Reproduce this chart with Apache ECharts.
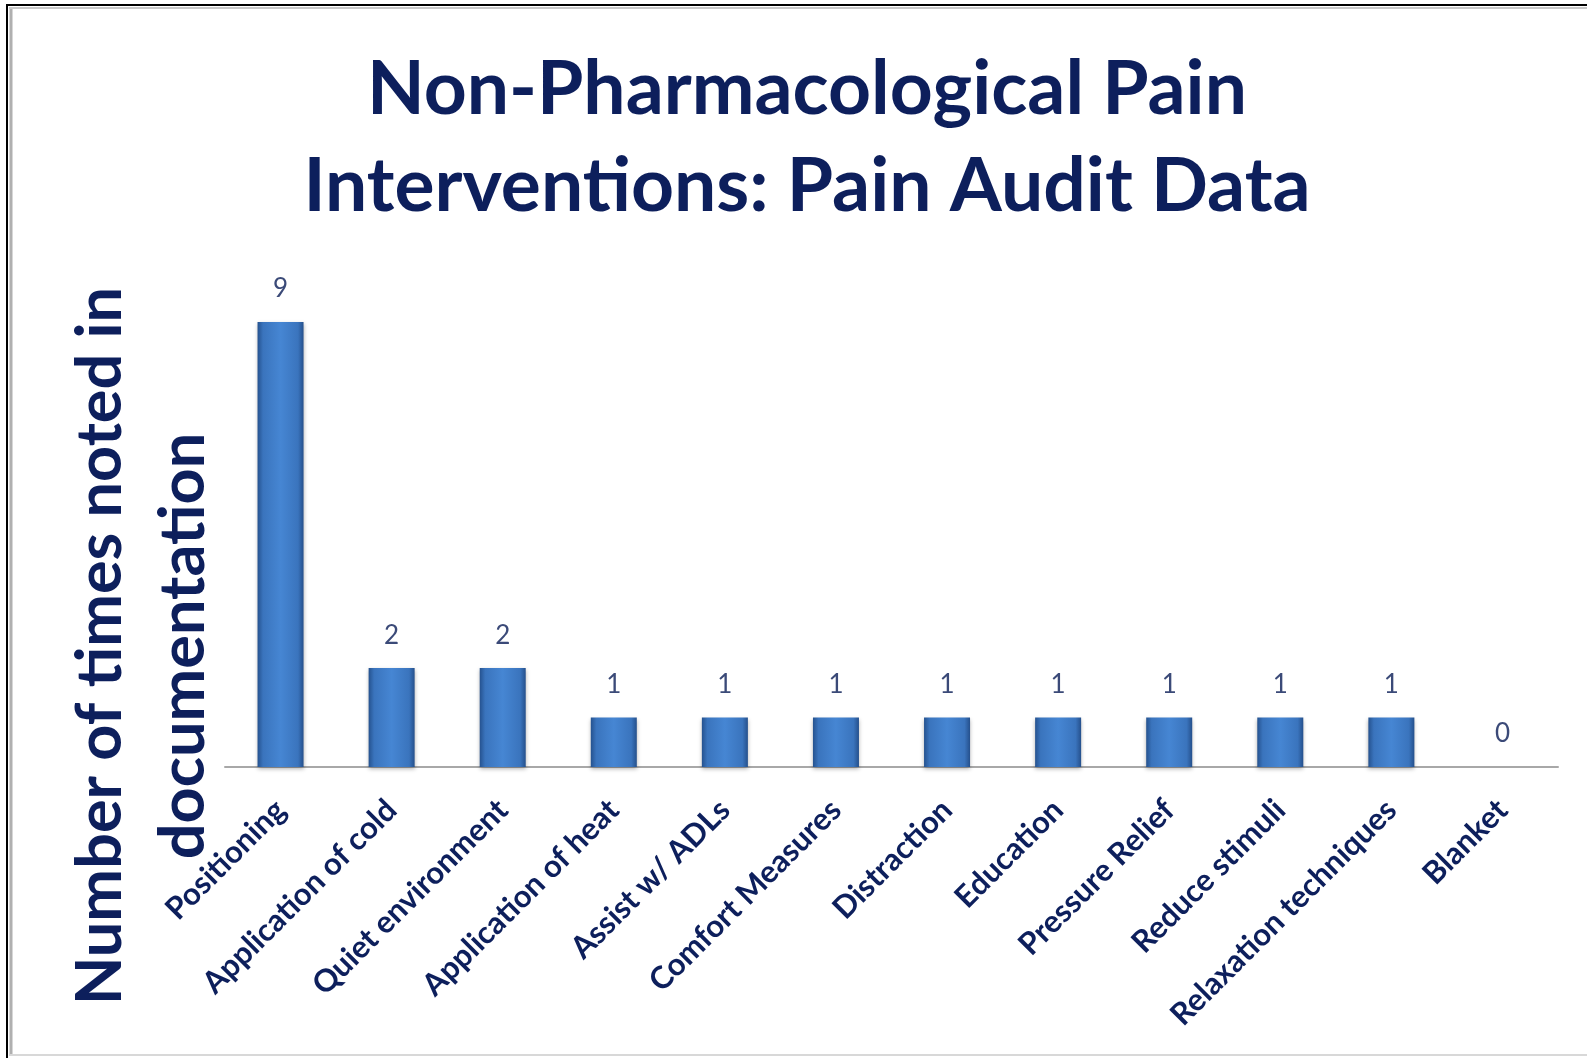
<!DOCTYPE html>
<html>
<head>
<meta charset="utf-8">
<script src="https://cdn.jsdelivr.net/npm/echarts@6/dist/echarts.min.js"></script>
<style>
html,body{margin:0;padding:0;background:#fff;}
#chart{width:1587px;height:1058px;}
</style>
</head>
<body>
<div id="chart"></div>
<script>
const categories = ['Positioning','Application of cold','Quiet environment','Application of heat','Assist w/ ADLs','Comfort Measures','Distraction','Education','Pressure Relief','Reduce stimuli','Relaxation techniques','Blanket'];
const counts = [9,2,2,1,1,1,1,1,1,1,1,0];
const titleLines = ['Non-Pharmacological Pain','Interventions: Pain Audit Data'];
const yAxisNameLines = ['Number of times noted in','documentation'];

const navy = '#0d1f5c';
const chart = echarts.init(document.getElementById('chart'));
chart.setOption({
  backgroundColor: '#ffffff',
  animation: false,
  title: {
    text: titleLines.join('\n'),
    left: 802, top: 36, textAlign: 'center',
    textStyle: {fontFamily: 'Lato', fontWeight: 'bold', fontSize: 75, color: navy, lineHeight: 97}
  },
  grid: {left: 225, right: 29, top: 322, bottom: 291, containLabel: false},
  xAxis: {
    type: 'category', data: categories,
    axisLine: {show: true, lineStyle: {color: '#a8a8a8', width: 2}},
    axisTick: {show: false},
    axisLabel: {rotate: 45, interval: 0, margin: 38, color: navy, fontFamily: 'Lato', fontWeight: 'bold', fontSize: 31}
  },
  yAxis: {type: 'value', min: 0, max: 9, show: false, splitLine: {show: false}},
  series: [{
    type: 'bar', data: counts, barWidth: 46,
    itemStyle: {
      color: {type: 'linear', x: 0, y: 0, x2: 1, y2: 0, colorStops: [
        {offset: 0, color: '#25528f'}, {offset: 0.12, color: '#3a74bd'},
        {offset: 0.5, color: '#4686d3'}, {offset: 0.88, color: '#3a74bd'},
        {offset: 1, color: '#25508c'}]},
      shadowColor: 'rgba(0,0,0,0.3)', shadowBlur: 4, shadowOffsetY: 2
    },
    label: {show: true, position: 'top', distance: 20, color: '#3b4a78', fontFamily: 'Lato', fontSize: 26}
  }],
  graphic: [
    {type: 'line', shape: {x1: 7, y1: 4, x2: 7, y2: 1058}, style: {stroke: '#000', lineWidth: 2}},
    {type: 'line', shape: {x1: 6, y1: 5, x2: 1587, y2: 5}, style: {stroke: '#000', lineWidth: 2}},
    {type: 'line', shape: {x1: 11, y1: 7, x2: 11, y2: 1056}, style: {stroke: '#b0b0b0', lineWidth: 3}},
    {type: 'line', shape: {x1: 9, y1: 8, x2: 1587, y2: 8}, style: {stroke: '#c8c8c8', lineWidth: 2}},
    {type: 'line', shape: {x1: 9, y1: 1055, x2: 1587, y2: 1055}, style: {stroke: '#d8d8d8', lineWidth: 2}},
    {type: 'text', x: 101, y: 646, rotation: Math.PI/2,
      style: {text: yAxisNameLines[0], fontFamily: 'Lato', fontWeight: 'bold', fontSize: 63, fill: navy, textAlign: 'center', textVerticalAlign: 'middle'}},
    {type: 'text', x: 184, y: 646, rotation: Math.PI/2,
      style: {text: yAxisNameLines[1], fontFamily: 'Lato', fontWeight: 'bold', fontSize: 63, fill: navy, textAlign: 'center', textVerticalAlign: 'middle'}}
  ]
});
</script>
</body>
</html>
